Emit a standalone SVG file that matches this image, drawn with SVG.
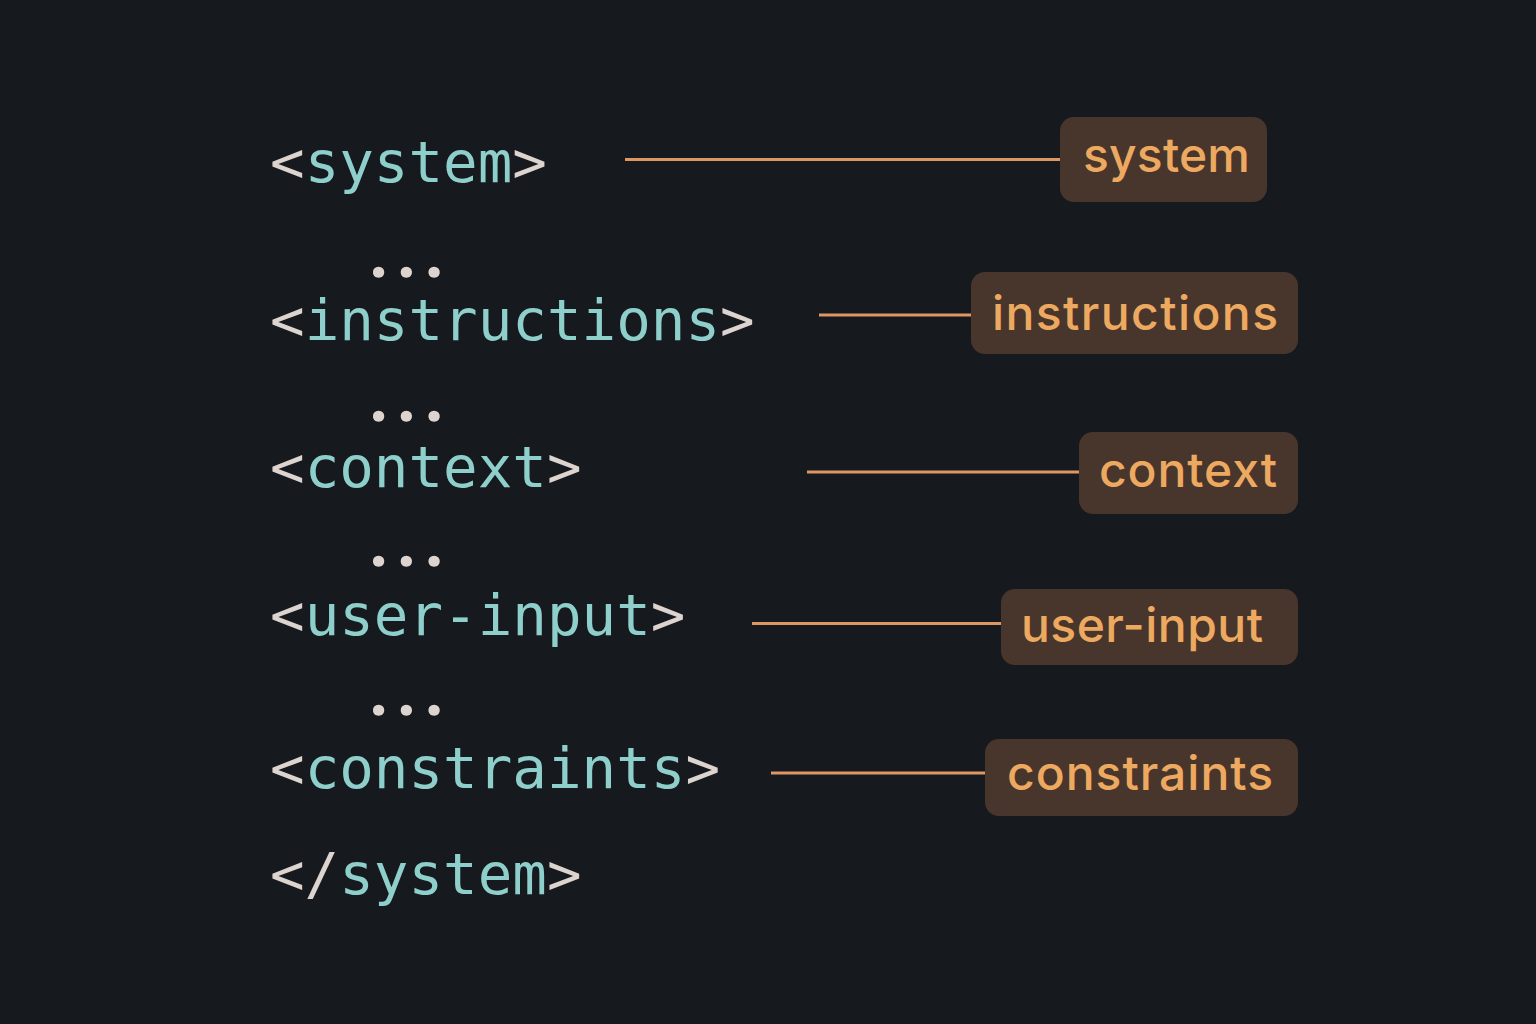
<svg xmlns="http://www.w3.org/2000/svg" width="1536" height="1024" viewBox="0 0 1536 1024">
<style>
.code{font-family:"DejaVu Sans Mono","Liberation Mono",monospace;font-size:57.5px;fill:#8ECFCB}
.br{fill:#DDD4CF}
.dots{font-family:Lato,"Open Sans",sans-serif;font-weight:bold;font-size:64px;fill:#DDD4CF;stroke:#DDD4CF;stroke-width:1.5;stroke-linejoin:round;letter-spacing:12.5px}
.box{fill:#48362D}
.lbl{font-family:Inter,"Noto Sans","Liberation Sans",sans-serif;font-size:48px;font-weight:500;fill:#EDA95F}
.conn{stroke:#DE9663;stroke-width:3;fill:none}
</style>
<rect x="0" y="0" width="1536" height="1024" fill="#16191E"/>
<g id="code">
<text class="code" x="270" y="182"><tspan class="br">&lt;</tspan>system<tspan class="br">&gt;</tspan></text>
<text class="dots" x="371" y="277">...</text>
<text class="code" x="270" y="340"><tspan class="br">&lt;</tspan>instructions<tspan class="br">&gt;</tspan></text>
<text class="dots" x="371" y="421">...</text>
<text class="code" x="270" y="487"><tspan class="br">&lt;</tspan>context<tspan class="br">&gt;</tspan></text>
<text class="dots" x="371" y="566">...</text>
<text class="code" x="270" y="635"><tspan class="br">&lt;</tspan>user-input<tspan class="br">&gt;</tspan></text>
<text class="dots" x="371" y="715">...</text>
<text class="code" x="270" y="788"><tspan class="br">&lt;</tspan>constraints<tspan class="br">&gt;</tspan></text>
<text class="code" x="270" y="894"><tspan class="br">&lt;/</tspan>system<tspan class="br">&gt;</tspan></text>
</g>
<g id="connectors">
<line class="conn" x1="625" y1="159.5" x2="1061" y2="159.5"/>
<line class="conn" x1="819" y1="315" x2="972" y2="315"/>
<line class="conn" x1="807" y1="472" x2="1080" y2="472"/>
<line class="conn" x1="752" y1="623.5" x2="1002" y2="623.5"/>
<line class="conn" x1="771" y1="773" x2="986" y2="773"/>
</g>
<g id="label-system">
<rect class="box" x="1060" y="117" width="207" height="85" rx="14"/>
<text class="lbl" x="1083" y="172" textLength="167" lengthAdjust="spacing">system</text>
</g>
<g id="label-instructions">
<rect class="box" x="971" y="272" width="327" height="82" rx="14"/>
<text class="lbl" x="992" y="330" textLength="286" lengthAdjust="spacing">instructions</text>
</g>
<g id="label-context">
<rect class="box" x="1079" y="432" width="219" height="82" rx="14"/>
<text class="lbl" x="1099" y="487" textLength="178" lengthAdjust="spacing">context</text>
</g>
<g id="label-user-input">
<rect class="box" x="1001" y="589" width="297" height="76" rx="14"/>
<text class="lbl" x="1021" y="642" textLength="242" lengthAdjust="spacing">user-input</text>
</g>
<g id="label-constraints">
<rect class="box" x="985" y="739" width="313" height="77" rx="14"/>
<text class="lbl" x="1007" y="790" textLength="266" lengthAdjust="spacing">constraints</text>
</g>
</svg>
